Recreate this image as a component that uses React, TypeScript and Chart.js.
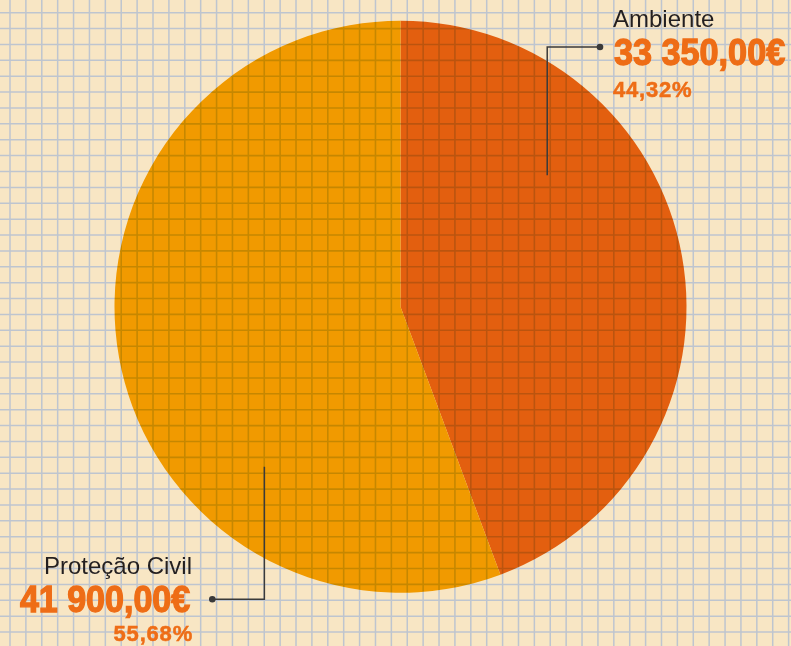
import React, { useEffect, useRef } from 'react';
import { Chart, registerables } from 'chart.js';

Chart.register(...registerables);

// ---- data ----
const categories = ['Ambiente', 'Proteção Civil'];
const amounts = [33350, 41900];
const valueLabels = ['33 350,00€', '41 900,00€'];
const percentLabels = ['44,32%', '55,68%'];
const sliceColors = ['#E35F0F', '#F19A00'];

// ---- styling ----
const W = 791;
const H = 646;
const BG = '#F8E6C4';
const GRID = '#BEC5CF';
const GRID_ON_PIE = 'rgb(210,224,222)';
const GRID_X0 = 10;
const GRID_Y0 = 12.7;
const GRID_SX = 15.89;
const GRID_SY = 15.88;
const ORANGE_TEXT = '#EE6D16';
const DARK_TEXT = '#231F20';
const LEADER = '#3A3A3A';
const FONT = '"Liberation Sans", Arial, Helvetica, sans-serif';

function drawGrid(ctx: CanvasRenderingContext2D, color: string, lw: number) {
  ctx.strokeStyle = color;
  ctx.lineWidth = lw;
  ctx.beginPath();
  for (let x = GRID_X0; x < W; x += GRID_SX) {
    ctx.moveTo(x, 0);
    ctx.lineTo(x, H);
  }
  for (let y = GRID_Y0; y < H; y += GRID_SY) {
    ctx.moveTo(0, y);
    ctx.lineTo(W, y);
  }
  ctx.stroke();
}

const leaders = [
  { from: [0.513, -0.46], cornerY: 47, dotX: 600 },
  { from: [-0.476, 0.56], cornerY: 599.3, dotX: 212.3 },
];

const paperPlugin = {
  id: 'paper',
  beforeDraw(chart: any) {
    const ctx = chart.ctx as CanvasRenderingContext2D;
    ctx.save();
    ctx.fillStyle = BG;
    ctx.fillRect(0, 0, W, H);
    drawGrid(ctx, GRID, 1.5);
    ctx.restore();
  },
  afterDatasetsDraw(chart: any) {
    const ctx = chart.ctx as CanvasRenderingContext2D;
    const arc = chart.getDatasetMeta(0).data[0];
    if (!arc) return;
    const cx = arc.x;
    const cy = arc.y;
    const r = arc.outerRadius;
    ctx.save();
    ctx.beginPath();
    ctx.arc(cx, cy, r, 0, Math.PI * 2);
    ctx.clip();
    ctx.globalCompositeOperation = 'multiply';
    drawGrid(ctx, GRID_ON_PIE, 1.6);
    ctx.restore();

    ctx.save();
    ctx.strokeStyle = LEADER;
    ctx.fillStyle = LEADER;
    ctx.lineWidth = 1.5;
    leaders.forEach((l) => {
      const sx = cx + l.from[0] * r;
      const sy = cy + l.from[1] * r;
      ctx.beginPath();
      ctx.moveTo(sx, sy);
      ctx.lineTo(sx, l.cornerY);
      ctx.lineTo(l.dotX, l.cornerY);
      ctx.stroke();
      ctx.beginPath();
      ctx.arc(l.dotX, l.cornerY, 3.3, 0, Math.PI * 2);
      ctx.fill();
    });
    ctx.restore();
  },
};

const abs = (extra: React.CSSProperties): React.CSSProperties => ({
  position: 'absolute',
  lineHeight: 1,
  whiteSpace: 'nowrap',
  fontFamily: FONT,
  margin: 0,
  ...extra,
});

export default function App() {
  const canvasRef = useRef<HTMLCanvasElement | null>(null);

  useEffect(() => {
    if (!canvasRef.current) return;
    const chart = new Chart(canvasRef.current, {
      type: 'pie',
      data: {
        labels: categories,
        datasets: [
          {
            data: amounts,
            backgroundColor: sliceColors,
            borderWidth: 0,
            hoverOffset: 0,
          },
        ],
      },
      options: {
        responsive: false,
        maintainAspectRatio: false,
        animation: false,
        events: [],
        layout: { padding: { left: 10, right: 0, top: 20.7, bottom: 53.3 } },
        plugins: {
          legend: { display: false },
          tooltip: { enabled: false },
        },
      },
      plugins: [paperPlugin],
    });
    return () => chart.destroy();
  }, []);

  const valueStroke = { WebkitTextStroke: `1.3px ${ORANGE_TEXT}` } as React.CSSProperties;
  const pctStroke = { WebkitTextStroke: `0.5px ${ORANGE_TEXT}` } as React.CSSProperties;

  return (
    <div style={{ position: 'absolute', left: 0, top: 0, width: W, height: H, overflow: 'hidden' }}>
      <canvas ref={canvasRef} width={W} height={H} style={{ position: 'absolute', left: 0, top: 0, width: W, height: H }} />

      {/* Ambiente */}
      <div style={abs({ left: 613, top: 7, fontSize: 24, color: DARK_TEXT })}>{categories[0]}</div>
      <div
        style={abs({
          left: 614,
          top: 34.8,
          fontSize: 36,
          fontWeight: 700,
          color: ORANGE_TEXT,
          transform: 'scaleX(0.95)',
          transformOrigin: 'left top',
          ...valueStroke,
        })}
      >
        {valueLabels[0]}
      </div>
      <div style={abs({ left: 613, top: 78.7, fontSize: 22, fontWeight: 700, color: ORANGE_TEXT, letterSpacing: 0.8, ...pctStroke })}>
        {percentLabels[0]}
      </div>

      {/* Proteção Civil */}
      <div style={abs({ right: W - 192, top: 554, fontSize: 24, color: DARK_TEXT })}>{categories[1]}</div>
      <div
        style={abs({
          right: W - 190,
          top: 582.2,
          fontSize: 36,
          fontWeight: 700,
          color: ORANGE_TEXT,
          transform: 'scaleX(0.945)',
          transformOrigin: 'right top',
          ...valueStroke,
        })}
      >
        {valueLabels[1]}
      </div>
      <div style={abs({ right: W - 193, top: 623, fontSize: 22, fontWeight: 700, color: ORANGE_TEXT, letterSpacing: 0.8, ...pctStroke })}>
        {percentLabels[1]}
      </div>
    </div>
  );
}
